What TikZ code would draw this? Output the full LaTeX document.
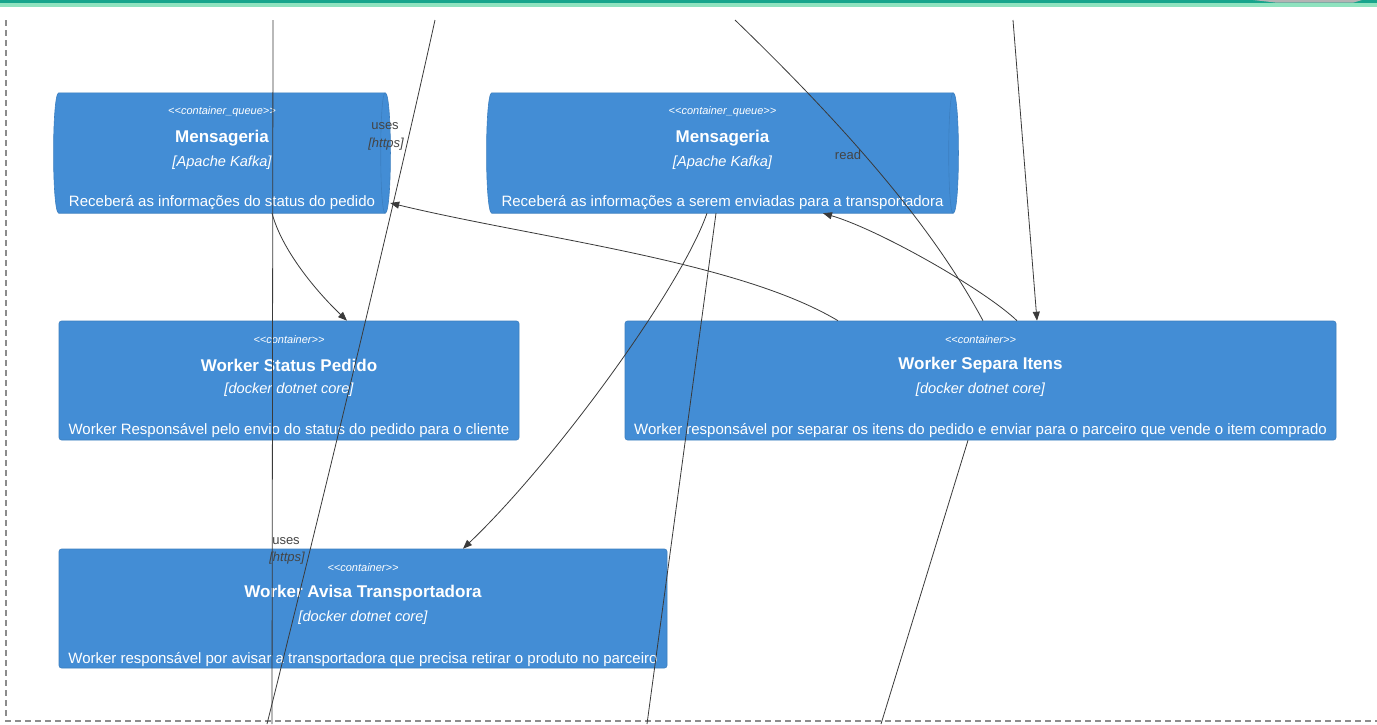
\documentclass[tikz,border=0pt]{standalone}
\usepackage{fontspec}
\setmainfont{Liberation Sans}
\usetikzlibrary{arrows.meta,calc}
\definecolor{cblue}{HTML}{438DD5}
\definecolor{cborder}{HTML}{3C7FC0}
\definecolor{edgec}{HTML}{3A3A3A}
\definecolor{lblc}{HTML}{444444}
\definecolor{bandteal}{HTML}{17A58C}
\definecolor{bandmint}{HTML}{8FE3BF}
\definecolor{bandgray}{HTML}{B4B4B4}
\definecolor{bordgray}{HTML}{8C8C8C}
\begin{document}
\begin{tikzpicture}[x=1pt,y=-1pt,
  cbox/.style={rectangle, fill=cblue, draw=cborder, line width=0.6pt, rounded corners=2.5pt, inner sep=0pt},
  qanchor/.style={rectangle, draw=none, fill=none, inner sep=0pt},
  qfill/.style={fill=cblue, draw=cborder, line width=0.6pt},
  stereo/.style={text=white, font=\fontsize{11}{13}\selectfont\itshape, inner sep=0pt},
  ttl/.style={text=white, font=\fontsize{17}{20}\selectfont\bfseries, inner sep=0pt},
  tech/.style={text=white, font=\fontsize{14.6}{17}\selectfont\itshape, inner sep=0pt},
  desc/.style={text=white, font=\fontsize{15}{18}\selectfont, inner sep=0pt},
  edge/.style={draw=edgec, line width=0.8pt},
  arr/.style={edge, -{Triangle[length=9pt,width=7pt]}},
  lbl/.style={text=lblc, font=\fontsize{13}{15}\selectfont, inner sep=0pt},
  lbli/.style={text=lblc, font=\fontsize{13}{15}\selectfont\itshape, inner sep=0pt},
  frame/.style={draw=bordgray, line width=1.1pt, dash pattern=on 6pt off 4pt}
]
\useasboundingbox (0,0) rectangle (1377,724);
\fill[white] (0,0) rectangle (1377,724);

% top band
\fill[bandmint] (0,0) rectangle (1377,6.7);
\fill[bandteal] (0,0) rectangle (1377,2.7);
\fill[bandgray] (1253,0) -- (1362,0) -- (1353,2.7) -- (1277,2.7) -- cycle;

% boundary
\draw[frame] (6,20) -- (6,721) -- (1377,721);

% queue anchors
\node[qanchor, minimum width=334pt, minimum height=120pt] (msl) at (222,153) {};
\node[qanchor, minimum width=469pt, minimum height=120pt] (msr) at (722.5,153) {};
\foreach \q in {msl,msr}{
  \path[qfill] ([xshift=4pt]\q.north west) -- ([xshift=-4pt]\q.north east)
    .. controls ([xshift=3pt]\q.north east) and ([xshift=3pt]\q.south east) .. ([xshift=-4pt]\q.south east)
    -- ([xshift=4pt]\q.south west)
    .. controls ([xshift=-3pt]\q.south west) and ([xshift=-3pt]\q.north west) .. cycle;
  \draw[draw=cborder, line width=0.6pt] ([xshift=-4pt]\q.north east)
    .. controls ([xshift=-10pt]\q.north east) and ([xshift=-10pt]\q.south east) .. ([xshift=-4pt]\q.south east);
}

% containers
\node[cbox, minimum width=460pt, minimum height=119pt] (wst) at (289,380.5) {};
\node[cbox, minimum width=711pt, minimum height=119pt] (wsi) at (980.5,380.5) {};
\node[cbox, minimum width=608pt, minimum height=119pt] (wat) at (363,608.5) {};

% texts
\node[stereo] (msl-s) at ([yshift=-18.5pt]msl.north) {<{}<container\_queue>{}>};
\node[ttl]    (msl-t) at ([yshift=-45pt]msl.north) {Mensageria};
\node[tech]   (msl-k) at ([yshift=-69.5pt]msl.north) {[Apache Kafka]};
\node[desc]   (msl-d) at ([yshift=-110pt]msl.north) {Receberá as informações do status do pedido};

\node[stereo] (msr-s) at ([yshift=-18.5pt]msr.north) {<{}<container\_queue>{}>};
\node[ttl]    (msr-t) at ([yshift=-45pt]msr.north) {Mensageria};
\node[tech]   (msr-k) at ([yshift=-69.5pt]msr.north) {[Apache Kafka]};
\node[desc]   (msr-d) at ([yshift=-110pt]msr.north) {Receberá as informações a serem enviadas para a transportadora};

\node[stereo] (wst-s) at ([yshift=-18.5pt]wst.north) {<{}<container>{}>};
\node[ttl]    (wst-t) at ([yshift=-44.5pt]wst.north) {Worker Status Pedido};
\node[tech]   (wst-k) at ([yshift=-69pt]wst.north) {[docker dotnet core]};
\node[desc]   (wst-d) at ([yshift=-110pt]wst.north) {Worker Responsável pelo envio do status do pedido para o cliente};

\node[stereo] (wsi-s) at ([yshift=-18.5pt]wsi.north) {<{}<container>{}>};
\node[ttl]    (wsi-t) at ([yshift=-44.5pt]wsi.north) {Worker Separa Itens};
\node[tech]   (wsi-k) at ([yshift=-69pt]wsi.north) {[docker dotnet core]};
\node[desc]   (wsi-d) at ([yshift=-110pt]wsi.north) {Worker responsável por separar os itens do pedido e enviar para o parceiro que vende o item comprado};

\node[stereo] (wat-s) at ([yshift=-18.5pt]wat.north) {<{}<container>{}>};
\node[ttl]    (wat-t) at ([yshift=-44.5pt]wat.north) {Worker Avisa Transportadora};
\node[tech]   (wat-k) at ([yshift=-69pt]wat.north) {[docker dotnet core]};
\node[desc]   (wat-d) at ([yshift=-111pt]wat.north) {Worker responsável por avisar a transportadora que precisa retirar o produto no parceiro};

% free ends
\coordinate (a-top) at (273,20);
\coordinate (a-bot) at (272,724);
\coordinate (b-top) at (435,20);
\coordinate (b-bot) at (267,724);
\coordinate (c-top) at (735,20);
\coordinate (d-top) at (1013,20);
\coordinate (e-bot) at (881,724);
\coordinate (f-bot) at (647,724);

% connectors
\draw[edge] (a-top) -- (a-bot);
\draw[edge] (b-top) .. controls (391,220) and (317,524) .. (b-bot);
\draw[edge] ([xshift=2.5pt]wsi.north) .. controls (945,250) and (880,160) .. (c-top);
\draw[arr] (d-top) -- ([xshift=56.5pt]wsi.north);
\draw[arr] ([xshift=36.5pt]wsi.north) .. controls (985,290) and (880,230) .. ([xshift=100.5pt]msr.south);
\draw[arr] ([xshift=-142.5pt]wsi.north) .. controls (738,261) and (538,238.5) .. ([xshift=1pt,yshift=-50pt]msl.east);
\draw[arr] ([xshift=50pt]msl.south) .. controls (282,250) and (315,290) .. ([xshift=58pt]wst.north);
\draw[arr] ([xshift=-15.5pt]msr.south) .. controls (680,290) and (553,463) .. ([xshift=100pt]wat.north);
\draw[edge] ([xshift=-6.5pt]msr.south) -- (f-bot);
\draw[edge] ([xshift=-12.5pt]wsi.south) -- (e-bot);

% labels
\node[lbl]  (l1a) at (385,126) {uses};
\node[lbli] (l1b) at (386,144) {[https]};
\node[lbl]  (l2)  at (848,155) {read};
\node[lbl]  (l3a) at (286,541) {uses};
\node[lbli] (l3b) at (287,558) {[https]};
\end{tikzpicture}
\end{document}
